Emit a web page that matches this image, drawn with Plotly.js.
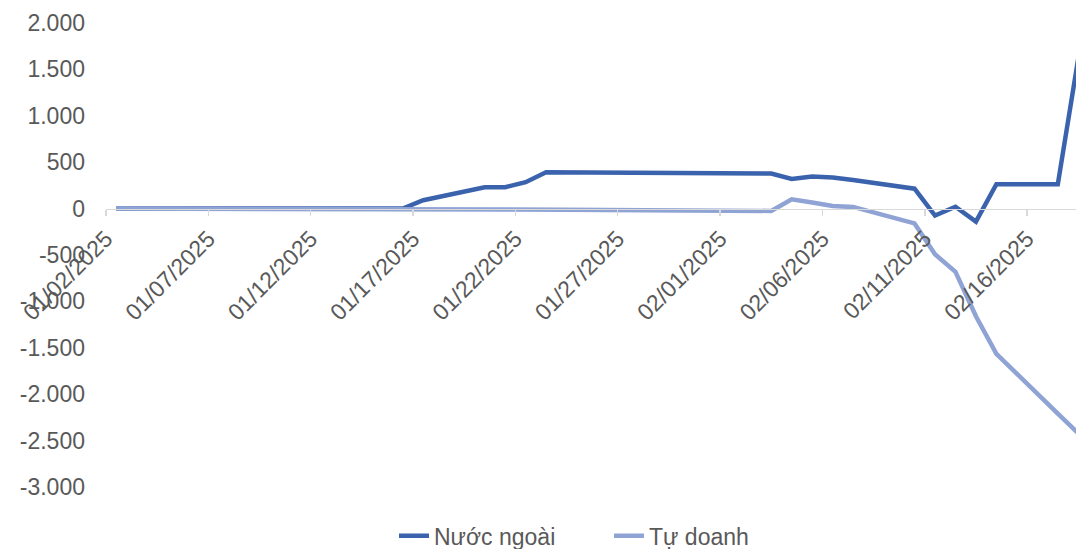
<!DOCTYPE html>
<html>
<head>
<meta charset="utf-8">
<script src="https://cdn.plot.ly/plotly-3.0.1.min.js"></script>
<style>html,body{margin:0;padding:0;background:#fff;}#chart{width:1076px;height:549px;}</style>
</head>
<body>
<div id="chart"></div>
<script>
// Trading days (Vietnam market, Tet holiday 27-31 Jan closed)
const dates = [
  '2025-01-02','2025-01-03','2025-01-06','2025-01-07','2025-01-08','2025-01-09','2025-01-10',
  '2025-01-13','2025-01-14','2025-01-15','2025-01-16','2025-01-17',
  '2025-01-20','2025-01-21','2025-01-22','2025-01-23','2025-01-24',
  '2025-02-03','2025-02-04','2025-02-05','2025-02-06','2025-02-07',
  '2025-02-10','2025-02-11','2025-02-12','2025-02-13','2025-02-14',
  '2025-02-17','2025-02-18'
];
const nuocNgoai = [
  0, 0, 0, 0, 0, 0, 0,
  0, 0, 0, 0, 90,
  230, 230, 285, 392, 390,
  378, 320, 346, 334, 308,
  215, -75, 20, -140, 262,
  262, 1620
];
const tuDoanh = [
  0, 0, 0, 0, -8, -10, -8,
  -3, -5, -10, -8, 0,
  0, 0, 0, 0, -12,
  -25, 100, 66, 27, 18,
  -160, -492, -682, -1160, -1565,
  -2210, -2420
];
const seriesNames = ['Nước ngoài', 'Tự doanh'];
const yTickVals = [2000, 1500, 1000, 500, 0, -500, -1000, -1500, -2000, -2500, -3000];
const yTickText = ['2.000', '1.500', '1.000', '500', '0', '-500', '-1.000', '-1.500', '-2.000', '-2.500', '-3.000'];

// points sit in the middle of each day slot (Excel date axis, between tick marks)
const xMid = dates.map(d => d + ' 12:00');

const traces = [
  {x: xMid, y: nuocNgoai, name: seriesNames[0], type: 'scatter', mode: 'lines',
   line: {color: '#3b63ad', width: 4.5}},
  {x: xMid, y: tuDoanh, name: seriesNames[1], type: 'scatter', mode: 'lines',
   line: {color: '#8fa3d5', width: 4.5}}
];

const layout = {
  width: 1076, height: 549,
  margin: {l: 106, r: 0, t: 23, b: 62, autoexpand: false},
  paper_bgcolor: '#fff', plot_bgcolor: '#fff',
  font: {family: '"Liberation Sans", Arial, sans-serif', size: 23, color: '#595959'},
  showlegend: true,
  legend: {orientation: 'h', xref: 'container', yref: 'container',
           x: 394 / 1076, xanchor: 'left', y: 0.024, yanchor: 'middle',
           entrywidth: 170, entrywidthmode: 'pixels',
           font: {size: 23, color: '#595959'}, traceorder: 'normal'},
  xaxis: {
    type: 'date',
    range: ['2025-01-02', '2025-02-18 09:20'],
    tick0: '2025-01-02', dtick: 5 * 86400000,
    tickformat: '%m/%d/%Y', tickangle: -45,
    showgrid: false, zeroline: false,
    showline: true, linecolor: '#d9d9d9', linewidth: 1.5,
    ticks: 'outside', ticklen: 6, tickcolor: '#d9d9d9', tickwidth: 1.5,
    anchor: 'free', position: 0.6, automargin: false,
    tickfont: {size: 23, color: '#595959'}
  },
  yaxis: {
    range: [-3000, 2000], automargin: false,
    tickmode: 'array', tickvals: yTickVals, ticktext: yTickText,
    showgrid: false, zeroline: false, showline: false, ticks: '',
    ticklabelstandoff: 20,
    tickfont: {size: 23, color: '#595959'}
  }
};

Plotly.newPlot('chart', traces, layout, {displayModeBar: false, staticPlot: true});
</script>
</body>
</html>
